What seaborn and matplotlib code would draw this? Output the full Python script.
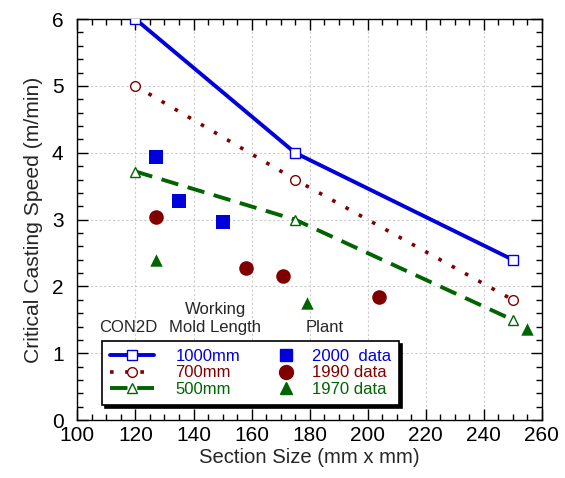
import matplotlib
matplotlib.use("Agg")
import matplotlib.pyplot as plt
from matplotlib.lines import Line2D
from matplotlib.legend_handler import HandlerLine2D
from matplotlib.ticker import MultipleLocator
import seaborn as sns
import numpy as np

sns.set_theme(style="white")
plt.rcParams['font.family'] = ['Liberation Sans', 'DejaVu Sans']

# CON2D model lines (working mold length)
section_model = [120, 175, 250]
speed_1000 = [6.0, 4.0, 2.4]
speed_700 = [5.0, 3.6, 1.8]
speed_500 = [3.72, 3.0, 1.5]

# Plant data
plant2000_x = [127, 135, 150]
plant2000_y = [3.93, 3.28, 2.96]
plant1990_x = [127, 158, 171, 204]
plant1990_y = [3.04, 2.27, 2.15, 1.84]
plant1970_x = [127, 179, 255]
plant1970_y = [2.39, 1.75, 1.36]

BLUE = '#0000DD'
RED = '#800000'
GREEN = '#006400'

fig, ax = plt.subplots(figsize=(5.65, 4.78), dpi=100)
fig.subplots_adjust(left=0.137, right=0.959, top=0.960, bottom=0.121)

ax.grid(True, color='#cccccc', linestyle=(0, (2, 2)), linewidth=0.8)
ax.set_axisbelow(True)

sns.lineplot(x=section_model, y=speed_1000, ax=ax, color=BLUE, lw=2.8,
             marker='s', markersize=7, markerfacecolor='white',
             markeredgecolor=BLUE, markeredgewidth=1.0, zorder=3)
sns.lineplot(x=section_model, y=speed_700, ax=ax, color=RED, lw=2.6,
             linestyle=(0, (1, 3.2)), marker='o', markersize=7,
             markerfacecolor='white', markeredgecolor=RED,
             markeredgewidth=1.0, zorder=3)
sns.lineplot(x=section_model, y=speed_500, ax=ax, color=GREEN, lw=2.8,
             linestyle=(0, (4.5, 2.5)), marker='^', markersize=7,
             markerfacecolor='white', markeredgecolor=GREEN,
             markeredgewidth=1.0, zorder=3)

sns.scatterplot(x=plant2000_x, y=plant2000_y, ax=ax, color=BLUE, marker='s',
                s=90, edgecolor=BLUE, linewidth=0, zorder=4)
sns.scatterplot(x=plant1990_x, y=plant1990_y, ax=ax, color=RED, marker='o',
                s=110, edgecolor=RED, linewidth=0, zorder=4)
sns.scatterplot(x=plant1970_x, y=plant1970_y, ax=ax, color=GREEN, marker='^',
                s=80, edgecolor=GREEN, linewidth=0, zorder=4)

ax.set_xlim(100, 260)
ax.set_ylim(0, 6)
ax.xaxis.set_major_locator(MultipleLocator(20))
ax.xaxis.set_minor_locator(MultipleLocator(5))
ax.yaxis.set_major_locator(MultipleLocator(1))
ax.yaxis.set_minor_locator(MultipleLocator(0.2))
ax.tick_params(which='both', direction='in', top=True, right=True,
               bottom=True, left=True, colors='black', labelsize=15)
ax.tick_params(axis='y', which='major', pad=10)
ax.tick_params(axis='x', which='major', pad=4.5)
ax.tick_params(which='major', length=8, width=1)
ax.tick_params(which='minor', length=4, width=1)
for s in ax.spines.values():
    s.set_color('black')
    s.set_linewidth(1.0)

ax.set_xlabel('Section Size (mm x mm)', fontsize=14.6, labelpad=2)
ax.set_ylabel('Critical Casting Speed (m/min)', fontsize=15.2, labelpad=6)


class MarkerRightHandler(HandlerLine2D):
    """Place the single legend marker near the right end of the handle box."""
    def get_xdata(self, legend, xdescent, ydescent, width, height, fontsize):
        xm = np.array([-xdescent + width * 0.9], float)
        return xm, xm


handles = [
    Line2D([], [], color=BLUE, lw=2.8, marker='s', markersize=7,
           markerfacecolor='white', markeredgecolor=BLUE),
    Line2D([], [], color=RED, lw=2.6, linestyle=(0, (1, 3.2)), marker='o',
           markersize=7, markerfacecolor='white', markeredgecolor=RED),
    Line2D([], [], color=GREEN, lw=2.8, linestyle=(0, (4.5, 2.5)), marker='^',
           markersize=7, markerfacecolor='white', markeredgecolor=GREEN),
    Line2D([], [], color=BLUE, lw=0, marker='s', markersize=9),
    Line2D([], [], color=RED, lw=0, marker='o', markersize=10),
    Line2D([], [], color=GREEN, lw=0, marker='^', markersize=9),
]
labels = ['1000mm', '700mm', '500mm', '2000  data', '1990 data', '1970 data']
hmap = {h: MarkerRightHandler(numpoints=2) for h in handles[3:]}
leg = ax.legend(handles, labels, ncol=2, loc='upper left',
                bbox_to_anchor=(0.053, 0.198), borderaxespad=0,
                fontsize=12, frameon=True, fancybox=False,
                shadow={'color': 'black', 'alpha': 1.0},
                edgecolor='black', framealpha=1, handlelength=2.6,
                handletextpad=1.3, columnspacing=0.4, labelspacing=0.08,
                borderpad=0.5, numpoints=1, handler_map=hmap)
leg.get_frame().set_linewidth(1.2)
for t, c in zip(leg.get_texts(), [BLUE, RED, GREEN, BLUE, RED, GREEN]):
    t.set_color(c)

ax.text(117.5, 1.38, 'CON2D', fontsize=12, ha='center', va='center')
ax.text(147.5, 1.52, 'Working\nMold Length', fontsize=12, ha='center',
        va='center', linespacing=1.2)
ax.text(185.3, 1.38, 'Plant', fontsize=12, ha='center', va='center')

fig.savefig('out.png', dpi=100)
